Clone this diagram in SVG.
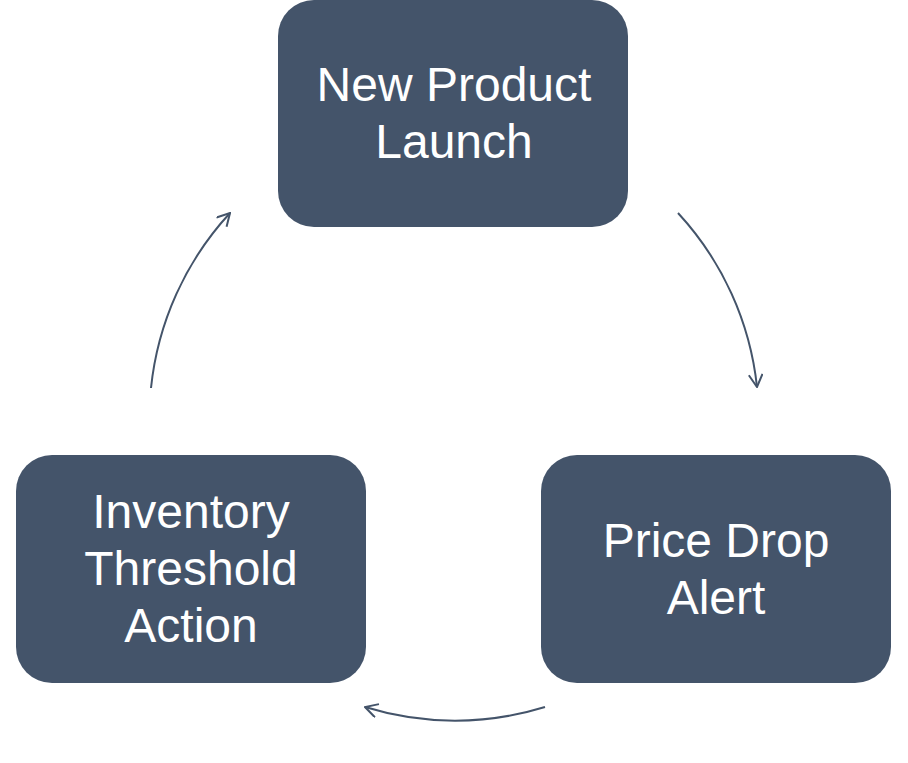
<svg xmlns="http://www.w3.org/2000/svg" width="908" height="763" viewBox="0 0 908 763">
<defs>
<style>
.node{fill:#44546A;}
.lbl{fill:#FFFFFF;font-family:"Liberation Sans",Arial,sans-serif;font-size:48px;text-anchor:middle;}
.arc{fill:none;stroke:#44546A;stroke-width:2;marker-end:url(#ah);}
</style>
<marker id="ah" viewBox="0 0 12 12" refX="11" refY="6" markerWidth="15" markerHeight="15" markerUnits="userSpaceOnUse" orient="auto">
<path d="M1,0.5 L11,6 L1,11.5" fill="none" stroke="#44546A" stroke-width="1.6"/>
</marker>
</defs>
<rect width="908" height="763" fill="#FFFFFF"/>
<g id="connectors">
<path class="arc" d="M678,213 A304,304 0 0 1 757,387"/>
<path class="arc" d="M545,707 A304,304 0 0 1 365,707"/>
<path class="arc" d="M151,388 A304,304 0 0 1 230,213"/>
</g>
<g id="node-new-product-launch">
<rect class="node" x="278" y="0" width="350" height="227" rx="36"/>
<text class="lbl" x="454" y="101">New Product</text>
<text class="lbl" x="454" y="158">Launch</text>
</g>
<g id="node-price-drop-alert">
<rect class="node" x="541" y="455" width="350" height="228" rx="36"/>
<text class="lbl" x="716" y="557">Price Drop</text>
<text class="lbl" x="716" y="614">Alert</text>
</g>
<g id="node-inventory-threshold-action">
<rect class="node" x="16" y="455" width="350" height="228" rx="36"/>
<text class="lbl" x="191" y="528">Inventory</text>
<text class="lbl" x="191" y="585">Threshold</text>
<text class="lbl" x="191" y="642">Action</text>
</g>
</svg>
